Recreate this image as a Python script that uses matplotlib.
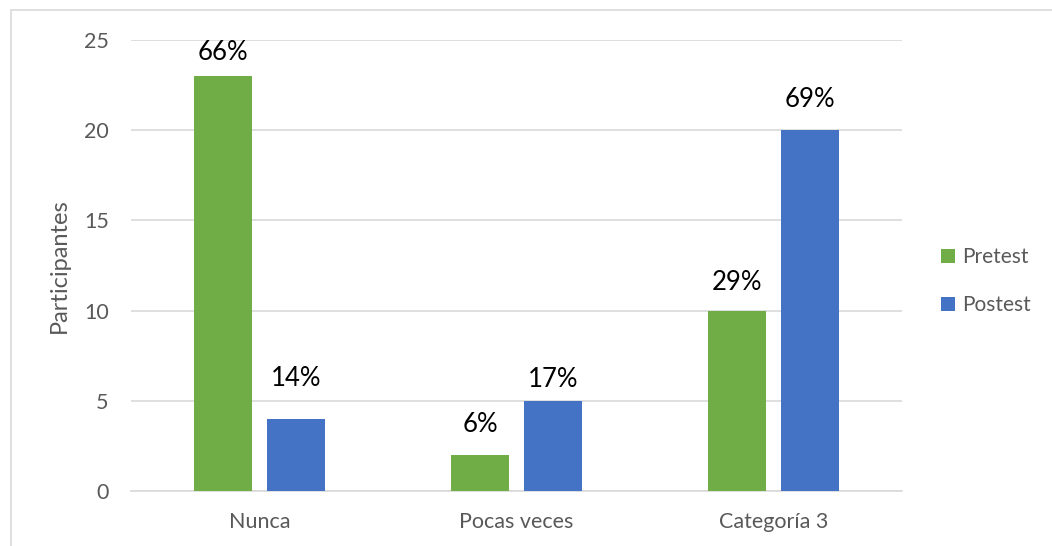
import numpy as np
import matplotlib.pyplot as plt
from matplotlib.patches import Rectangle

# --- Data ---
categories = ["Nunca", "Pocas veces", "Categoría 3"]
pretest = [23, 2, 10]
postest = [4, 5, 20]
pretest_pct = ["66%", "6%", "29%"]
postest_pct = ["14%", "17%", "69%"]

# label gap above each bar (points), labels were nudged by hand
pretest_gap = [8, 13, 11]
postest_gap = [20, 6, 13]

GREEN = "#70AD47"
BLUE = "#4472C4"
GRID = "#D9D9D9"
TEXT_GRAY = "#595959"

plt.rcParams["font.family"] = ["Lato", "DejaVu Sans"]

W, H = 1052, 546
fig = plt.figure(figsize=(W / 100, H / 100), dpi=100)

# chart frame (runs off the right and bottom edges)
fig.patches.append(Rectangle((11 / W, -0.1), 1.2, 1 - 10 / H + 0.1,
                             transform=fig.transFigure, fill=False,
                             edgecolor=GRID, linewidth=1.2))

ax = fig.add_axes([131 / W, 55 / H, 771 / W, 451 / H])

x = np.arange(len(categories))
width = 0.226
offset = 0.142

bars_pre = ax.bar(x - offset, pretest, width, color=GREEN, label="Pretest", zorder=3)
bars_post = ax.bar(x + offset, postest, width, color=BLUE, label="Postest", zorder=3)

for bars, labels, gaps in [(bars_pre, pretest_pct, pretest_gap),
                           (bars_post, postest_pct, postest_gap)]:
    for b, lab, g in zip(bars, labels, gaps):
        ax.annotate(lab, (b.get_x() + b.get_width() / 2, b.get_height()),
                    xytext=(0, g), textcoords="offset points",
                    ha="center", va="bottom", fontsize=18.5, color="black")

ax.set_xlim(-0.5, 2.5)
ax.set_ylim(0, 25)
ax.set_yticks([0, 5, 10, 15, 20, 25])
ax.yaxis.grid(True, color=GRID, linewidth=1.2, zorder=0)
ax.set_axisbelow(True)

for side in ["top", "right", "left"]:
    ax.spines[side].set_visible(False)
ax.spines["bottom"].set_color(GRID)
ax.spines["bottom"].set_linewidth(1.2)

ax.set_xticks(x)
ax.set_xticklabels(categories)
ax.tick_params(axis="x", length=0, pad=15, labelsize=15.5, labelcolor=TEXT_GRAY)
ax.tick_params(axis="y", length=0, pad=16, labelsize=15.5, labelcolor=TEXT_GRAY)

ax.set_ylabel("Participantes", fontsize=17, color=TEXT_GRAY, labelpad=10)

ax.legend(loc="center left", bbox_to_anchor=(922 / W, 0.485), bbox_transform=fig.transFigure,
          frameon=False, fontsize=15, labelcolor=TEXT_GRAY, handlelength=0.7,
          handleheight=0.7, handletextpad=0.35, labelspacing=1.35)

plt.savefig("out.png", dpi=100)
